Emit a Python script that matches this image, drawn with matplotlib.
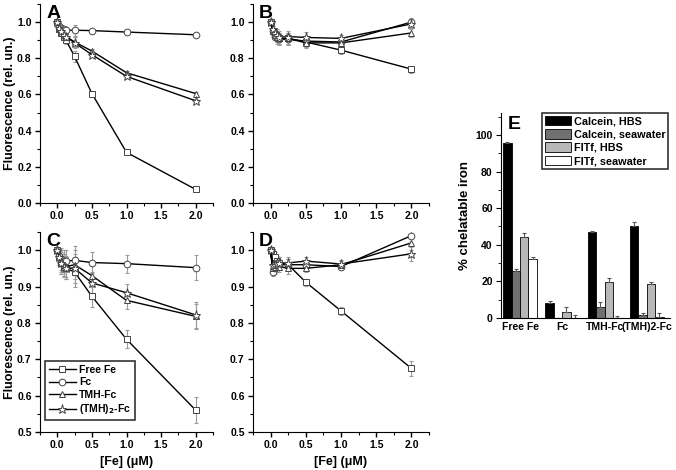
import matplotlib
matplotlib.use("Agg")
import matplotlib.pyplot as plt
import numpy as np
from matplotlib.ticker import MultipleLocator

plt.rcParams['font.family'] = ['Liberation Sans', 'DejaVu Sans']
plt.rcParams['font.weight'] = 'bold'
plt.rcParams['axes.labelweight'] = 'bold'

fe_conc = [0, 0.03, 0.06, 0.09, 0.125, 0.25, 0.5, 1.0, 2.0]
series_names = ["Free Fe", "Fc", "TMH-Fc", "(TMH)$_2$-Fc"]
markers = ["s", "o", "^", "*"]

# Panel A
a_free = [1.0, 0.97, 0.94, 0.92, 0.90, 0.81, 0.605, 0.28, 0.075]
a_fc   = [1.0, 0.98, 0.97, 0.96, 0.955, 0.955, 0.953, 0.945, 0.93]
a_tmh  = [1.0, 0.96, 0.94, 0.93, 0.92, 0.89, 0.84, 0.72, 0.605]
a_tmh2 = [1.0, 0.97, 0.95, 0.93, 0.92, 0.885, 0.82, 0.70, 0.565]
a_err  = [0.005, 0.01, 0.01, 0.01, 0.02, 0.03, 0.01, 0.01, 0.01]

# Panel B
b_free = [1.0, 0.95, 0.93, 0.92, 0.91, 0.91, 0.89, 0.845, 0.74]
b_fc   = [1.0, 0.95, 0.92, 0.91, 0.905, 0.905, 0.895, 0.89, 1.0]
b_tmh  = [1.0, 0.95, 0.93, 0.92, 0.91, 0.91, 0.885, 0.885, 0.94]
b_tmh2 = [1.0, 0.96, 0.94, 0.93, 0.92, 0.92, 0.915, 0.91, 0.99]
b_err  = [0.005, 0.02, 0.02, 0.03, 0.03, 0.03, 0.03, 0.02, 0.02]

# Panel C
c_free = [1.0, 0.98, 0.965, 0.955, 0.95, 0.94, 0.873, 0.755, 0.56]
c_fc   = [1.0, 0.985, 0.975, 0.97, 0.97, 0.972, 0.966, 0.963, 0.952]
c_tmh  = [1.0, 0.98, 0.97, 0.96, 0.955, 0.96, 0.93, 0.862, 0.818]
c_tmh2 = [1.0, 0.98, 0.965, 0.955, 0.95, 0.95, 0.91, 0.883, 0.822]
c_err  = [0.005, 0.02, 0.03, 0.03, 0.03, 0.04, 0.03, 0.025, 0.035]

# Panel D
d_free = [1.0, 0.99, 0.98, 0.97, 0.965, 0.96, 0.912, 0.833, 0.675]
d_fc   = [1.0, 0.94, 0.95, 0.955, 0.96, 0.96, 0.96, 0.955, 1.04]
d_tmh  = [1.0, 0.95, 0.955, 0.96, 0.955, 0.95, 0.95, 0.96, 1.02]
d_tmh2 = [1.0, 0.96, 0.96, 0.965, 0.965, 0.965, 0.97, 0.962, 0.99]
d_err  = [0.005, 0.01, 0.015, 0.015, 0.015, 0.015, 0.01, 0.01, 0.02]

# Panel E
groups = ["Free Fe", "Fc", "TMH-Fc", "(TMH)2-Fc"]
e_names = ["Calcein, HBS", "Calcein, seawater", "FITf, HBS", "FITf, seawater"]
e_calcein_hbs = [95.5, 8.0, 47.0, 50.5]
e_calcein_sw  = [25.5, 0.0, 6.0, 1.5]
e_fitf_hbs    = [44.0, 3.5, 19.5, 18.7]
e_fitf_sw     = [32.5, 0.0, 0.0, 0.5]
e_calcein_hbs_err = [0.6, 1.5, 0.8, 2.0]
e_calcein_sw_err  = [1.2, 0.0, 3.0, 1.5]
e_fitf_hbs_err    = [2.5, 2.5, 2.3, 1.0]
e_fitf_sw_err     = [1.0, 1.5, 1.2, 2.0]
e_colors = ["#000000", "#707070", "#b8b8b8", "#ffffff"]

fig = plt.figure(figsize=(6.76, 4.70), dpi=100)

W, H = 676.0, 470.0
def box(l, r, t, b):
    return [l / W, 1 - b / H, (r - l) / W, (b - t) / H]

axA = fig.add_axes(box(40, 213, 4, 203))
axB = fig.add_axes(box(253, 429, 4, 203))
axC = fig.add_axes(box(40, 213, 232, 432))
axD = fig.add_axes(box(253, 429, 232, 432))
axE = fig.add_axes(box(501, 670, 113, 318))

def style(ax, ylo, yhi, major, minor):
    for s in ["top", "right"]:
        ax.spines[s].set_visible(False)
    ax.set_xlim(-0.25, 2.25)
    ax.set_ylim(ylo, yhi)
    ax.xaxis.set_major_locator(MultipleLocator(0.5))
    ax.xaxis.set_minor_locator(MultipleLocator(0.25))
    ax.yaxis.set_major_locator(MultipleLocator(major))
    ax.yaxis.set_minor_locator(MultipleLocator(minor))
    ax.tick_params(which="major", direction="out", length=3.5, width=1, labelsize=7.5, pad=2.5)
    ax.tick_params(which="minor", direction="out", length=2, width=0.8)
    ax.xaxis.set_major_formatter(matplotlib.ticker.FormatStrFormatter("%.1f"))
    ax.yaxis.set_major_formatter(matplotlib.ticker.FormatStrFormatter("%.1f"))
    for lab in ax.get_xticklabels() + ax.get_yticklabels():
        lab.set_fontweight("bold")

def draw(ax, data, err):
    handles = []
    for vals, m, name in zip(data, markers, series_names):
        ms = 6.5 if m == "*" else 4.8
        ax.errorbar(fe_conc, vals, yerr=err, fmt="none", ecolor="#9a9a9a",
                    elinewidth=0.8, capsize=1.5, capthick=0.8, zorder=1)
        h, = ax.plot(fe_conc, vals, color="black", lw=1.0, marker=m, ms=ms,
                     mfc="white", mec="#444444", mew=0.7, zorder=2, label=name)
        handles.append(h)
    return handles

style(axA, 0.0, 1.1, 0.2, 0.1)
style(axB, 0.0, 1.1, 0.2, 0.1)
style(axC, 0.5, 1.05, 0.1, 0.05)
style(axD, 0.5, 1.05, 0.1, 0.05)

draw(axA, [a_free, a_fc, a_tmh, a_tmh2], a_err)
draw(axB, [b_free, b_fc, b_tmh, b_tmh2], b_err)
hC = draw(axC, [c_free, c_fc, c_tmh, c_tmh2], c_err)
draw(axD, [d_free, d_fc, d_tmh, d_tmh2], d_err)

for ax in (axA, axC):
    ax.set_ylabel("Fluorescence (rel. un.)", fontsize=9, fontweight="bold", labelpad=1)
for ax in (axC, axD):
    ax.set_xlabel("[Fe] (\u03bcM)", fontsize=9, fontweight="bold", labelpad=4)

leg = axC.legend(handles=hC, loc="lower left", bbox_to_anchor=(0.03, 0.06),
                 frameon=True, fancybox=False, edgecolor="black", fontsize=7.5,
                 handlelength=2.6, handletextpad=0.3, borderpad=0.35,
                 labelspacing=0.25, borderaxespad=0)
leg.get_frame().set_linewidth(1.2)
for t in leg.get_texts():
    t.set_fontweight("bold")

for ax, letter in zip((axA, axB, axC, axD), "ABCD"):
    ax.text(0.035, 0.995, letter, transform=ax.transAxes, fontsize=14, fontweight="bold",
            va="top", ha="left")

# Panel E bars
xg = np.arange(len(groups))
bw = 0.2
e_vals = [e_calcein_hbs, e_calcein_sw, e_fitf_hbs, e_fitf_sw]
e_errs = [e_calcein_hbs_err, e_calcein_sw_err, e_fitf_hbs_err, e_fitf_sw_err]
for i, (vals, errs, c, name) in enumerate(zip(e_vals, e_errs, e_colors, e_names)):
    pos = xg + (i - 1.5) * bw
    axE.bar(pos, vals, width=bw, color=c, edgecolor="black", linewidth=0.6, label=name)
    axE.errorbar(pos, vals, yerr=[np.zeros(len(errs)), errs], fmt="none",
                 ecolor="#555555", elinewidth=0.8, capsize=1.5, capthick=0.8)

for s in ["top", "right"]:
    axE.spines[s].set_visible(False)
axE.set_xlim(-0.45, 3.55)
axE.set_ylim(0, 112)
axE.yaxis.set_major_locator(MultipleLocator(20))
axE.yaxis.set_minor_locator(MultipleLocator(10))
axE.set_xticks(xg)
axE.set_xticklabels(groups, fontsize=7.5, fontweight="bold")
axE.tick_params(axis="x", length=0, pad=3)
axE.tick_params(axis="y", which="major", direction="out", length=3.5, labelsize=7.5, pad=2.5)
axE.tick_params(axis="y", which="minor", direction="out", length=2)
for lab in axE.get_yticklabels():
    lab.set_fontweight("bold")
axE.set_ylabel("% chelatable iron", fontsize=9.5, fontweight="bold", labelpad=3)
axE.text(0.04, 0.985, "E", transform=axE.transAxes, fontsize=14, fontweight="bold",
         va="top", ha="left")
legE = axE.legend(loc="upper right", bbox_to_anchor=(0.99, 1.0), frameon=True,
                  fancybox=False, edgecolor="black", fontsize=7.8,
                  handlelength=2.4, handleheight=1.0, handletextpad=0.3,
                  borderpad=0.25, labelspacing=0.25, borderaxespad=0)
legE.get_frame().set_linewidth(1.2)
for t in legE.get_texts():
    t.set_fontweight("bold")

fig.savefig("out.png", dpi=100)
